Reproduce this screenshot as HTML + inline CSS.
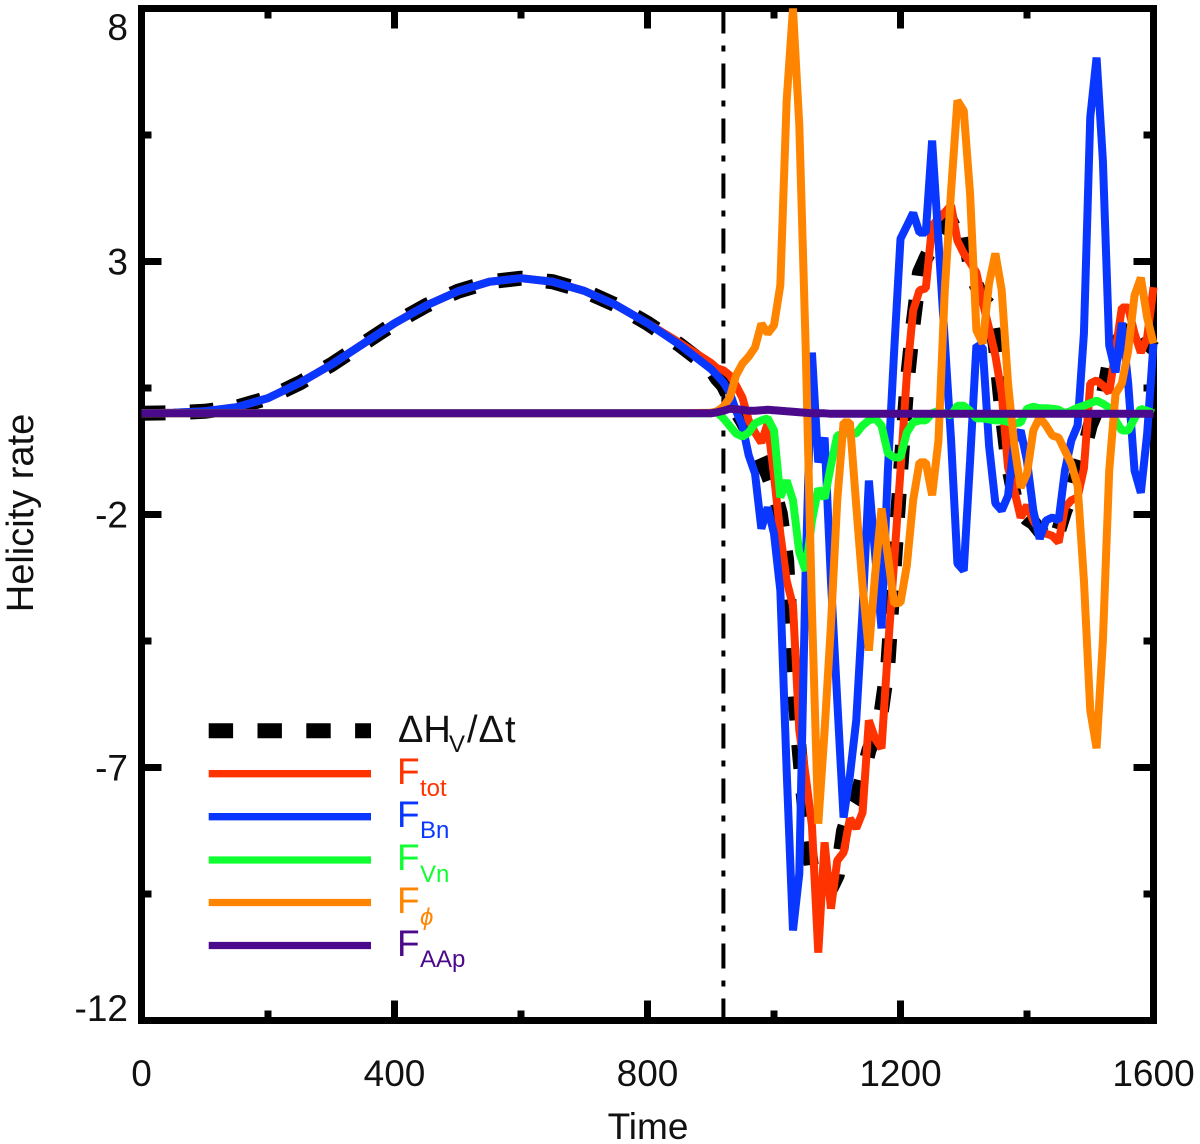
<!DOCTYPE html>
<html lang="en">
<head>
<meta charset="utf-8">
<title>Helicity rate vs time</title>
<style>
html,body{margin:0;padding:0;background:#fff;width:1200px;height:1144px;overflow:hidden}
svg{display:block}
text{font-family:"Liberation Sans",Arial,sans-serif;fill:#111}
</style>
</head>
<body>
<svg id="chart" xmlns="http://www.w3.org/2000/svg" width="1200" height="1144" viewBox="0 0 1200 1144">
  <g id="axes"></g>
  <g id="series"></g>
  <text x="648" y="1139" font-size="37" text-anchor="middle">Time</text>
  <text transform="translate(33,513) rotate(-90)" font-size="38" text-anchor="middle">Helicity rate</text>
  <g>
    <line x1="208.7" x2="371" y1="730.7" y2="730.7" stroke="#000" stroke-width="15" stroke-dasharray="24.4 24.4"/>
    <text x="398" y="742" font-size="38">ΔH</text>
    <text x="449" y="752" font-size="24">V</text>
    <text x="467" y="742" font-size="38" letter-spacing="1">/Δt</text>

    <line x1="208.7" x2="371" y1="773.7" y2="773.7" stroke="#ff3300" stroke-width="7.3"/>
    <text x="397" y="784" font-size="37" style="fill:#ff3300">F</text>
    <text x="420" y="796" font-size="24" style="fill:#ff3300">tot</text>

    <line x1="208.7" x2="371" y1="816.7" y2="816.7" stroke="#0a37ff" stroke-width="7.3"/>
    <text x="397" y="827" font-size="37" style="fill:#0a37ff">F</text>
    <text x="420" y="838" font-size="24" style="fill:#0a37ff">Bn</text>

    <line x1="208.7" x2="371" y1="860" y2="860" stroke="#10ff30" stroke-width="7.3"/>
    <text x="397" y="870" font-size="37" style="fill:#10ff30">F</text>
    <text x="420" y="882" font-size="24" style="fill:#10ff30">Vn</text>

    <line x1="208.7" x2="371" y1="902.5" y2="902.5" stroke="#ff8500" stroke-width="7.3"/>
    <text x="397" y="913" font-size="37" style="fill:#ff8500">F</text>
    <text x="420" y="925" font-size="24" font-style="italic" style="fill:#ff8500">ϕ</text>

    <line x1="208.7" x2="371" y1="945.5" y2="945.5" stroke="#4b0a8c" stroke-width="7.3"/>
    <text x="397" y="956" font-size="37" style="fill:#4b0a8c">F</text>
    <text x="420" y="967" font-size="24" style="fill:#4b0a8c">AAp</text>
  </g>
</svg>
<script>
const times = [0,50,100,150,200,250,300,350,400,450,500,550,600,650,700,750,800,850,900,
910,920,930,940,950,960,970,980,990,1000,
1010,1020,1030,1040,1050,1060,1070,1080,1090,1100,
1110,1120,1130,1140,1150,1160,1170,1180,1190,1200,
1210,1220,1230,1240,1250,1260,1270,1280,1290,1300,
1310,1320,1330,1340,1350,1360,1370,1380,1390,1400,
1410,1420,1430,1440,1450,1460,1470,1480,1490,1500,
1510,1520,1530,1540,1550,1560,1570,1580,1590,1600];

const dHdt = [0,.01,.04,.12,.3,.6,.96,1.37,1.78,2.13,2.41,2.6,2.67,2.6,2.42,2.14,1.78,1.36,.88,
.69,.55,.3,.05,-.15,-.38,-.65,-.93,-1.2,-1.53,
-1.98,-2.91,-5.09,-6.67,-8.05,-9.04,-9.23,-9.33,-9.39,-9.13,
-8.25,-7.85,-7.65,-7.16,-6.66,-6.37,-5.87,-4.98,-3.05,-1.17,
.55,1.77,2.78,3.06,3.32,3.51,3.71,3.85,3.91,3.71,
2.92,2.53,2.27,2.13,1.34,.06,-.99,-1.63,-1.96,-2.08,
-2.16,-2.32,-2.45,-2.52,-2.32,-1.92,-1.62,-1.13,-.74,-.24,
.06,.31,1.0,1.34,1.54,1.79,1.79,1.6,1.4,1.28];

const fTot = [0,.01,.04,.12,.3,.6,.96,1.37,1.78,2.13,2.41,2.6,2.67,2.6,2.42,2.14,1.78,1.4,1.0,
.89,.85,.75,.55,.31,-.14,-.38,-.58,-.2,-1.23,
-2.38,-3.31,-3.8,-6.27,-7.16,-8.15,-10.66,-8.48,-9.79,-8.84,
-8.68,-8.01,-8.2,-7.89,-6.07,-6.43,-6.62,-4.69,-2.91,-1.13,
.75,2.03,2.43,2.47,3.71,3.85,3.97,4.11,3.41,3.16,
2.98,2.78,2.19,1.68,1.14,.39,-1.07,-1.53,-2.06,-1.82,
-2.12,-2.32,-2.38,-2.42,-2.55,-1.86,-1.72,-1.66,-1.09,.59,
.65,.55,.41,1.24,2.09,2.09,1.58,1.2,1.5,2.49];

const fBn = [0,.01,.04,.12,.3,.6,.96,1.37,1.78,2.13,2.41,2.6,2.67,2.6,2.42,2.14,1.78,1.36,.88,
.75,.61,.41,.05,-.24,-.83,-1.19,-2.28,-1.86,-2.38,
-3.5,-7.06,-10.22,-9.1,-3.11,1.2,-.97,-.48,-3.3,-5.68,
-7.99,-7.16,-6.07,-3.9,-1.33,-2.81,-4.25,-1.13,1.24,3.45,
3.7,3.96,3.57,3.57,5.39,3.41,1.44,-.54,-2.97,-3.11,
-.94,1.34,1.3,-.64,-1.78,-1.92,-1.63,-.54,-.34,-.94,
-1.92,-2.48,-2.12,-2.06,-2.12,-1.13,-.54,-.24,1.58,5.85,
7.03,4.99,1.34,.81,1.79,.59,-1.13,-1.57,-.4,1.38];

const fVn = [0,0,0,0,0,0,0,0,0,0,0,0,0,0,0,0,0,0,0,
.02,-.1,-.25,-.4,-.46,-.38,-.2,-.14,-.1,-.34,
-1.66,-1.33,-1.72,-2.75,-3.11,-2.12,-1.49,-1.68,-1.03,-.44,
-.4,-.4,-.4,-.24,-.14,-.1,-.24,-.79,-.87,-.87,
-.38,-.18,-.14,-.14,0,.05,0,-.04,.15,.15,
.05,-.1,-.1,-.12,-.14,-.14,-.17,-.2,-.18,.09,
.13,.1,.1,.09,.07,0,.05,.11,.15,.2,
.25,.19,.11,-.14,-.34,-.34,-.1,.09,.05,0];

const fPhi = [0,0,0,0,0,0,0,0,0,0,0,0,0,0,0,0,0,0,.01,
.04,.13,.31,.75,.98,1.12,1.3,1.77,1.58,1.74,
2.53,6.18,8.0,5.69,1.34,-3.9,-8.11,-6.27,-4.19,-1.72,
-.18,-.18,-1.82,-3.4,-4.69,-3.17,-1.88,-2.82,-3.76,-3.74,
-3.01,-1.72,-.97,-.97,-1.62,-.54,2.43,4.4,6.18,5.98,
4.34,1.64,1.38,2.57,3.16,2.43,.59,-.64,-1.47,-1.19,
-.34,-.08,-.24,-.44,-.48,-.74,-1.0,-1.43,-3.3,-5.87,
-6.62,-4.49,-1.13,.39,.59,1.24,2.33,2.68,1.89,1.38];

const fAAp = [0,0,0,0,0,0,0,0,0,0,0,0,0,0,0,0,0,0,0,
.02,.05,.09,.08,.07,.05,.05,.06,.07,.06,
.05,.04,.03,.02,.01,0,0,0,-.01,-.01,
-.01,-.01,-.01,-.01,-.01,-.01,-.01,-.01,-.01,-.01,
-.01,-.01,-.01,-.01,-.01,-.01,-.01,-.01,-.01,-.01,
-.01,-.01,-.01,-.01,-.01,-.01,-.01,-.01,-.01,-.01,
-.01,-.01,-.01,-.01,-.01,-.01,-.01,-.01,-.01,-.01,
-.01,-.01,-.01,-.01,-.01,-.01,-.01,-.01,-.01,-.01];

const eventTime = [920];
const xMajorTicks = [0,400,800,1200,1600];
const xMinorTicks = [200,600,1000,1400];
const yMajorTicks = [8,3,-2,-7,-12];
const yMinorTicks = [5.5,.5,-4.5,-9.5];

const SVG_NS = 'http://www.w3.org/2000/svg';
const plotLeft = 141.5, plotRight = 1153.5, plotTop = 8.5, plotBottom = 1020.5;
const xMin = 0, xMax = 1600, yMin = -12, yMax = 8;
const majorLen = 20, minorLen = 10, spineWidth = 7;

function xScale(t){ return plotLeft + (t - xMin) / (xMax - xMin) * (plotRight - plotLeft); }
function yScale(v){ return plotBottom - (v - yMin) / (yMax - yMin) * (plotBottom - plotTop); }

const axes = document.getElementById('axes');
const seriesGroup = document.getElementById('series');

function makeLine(x1, y1, x2, y2){
  const l = document.createElementNS(SVG_NS, 'line');
  l.setAttribute('x1', x1); l.setAttribute('y1', y1);
  l.setAttribute('x2', x2); l.setAttribute('y2', y2);
  l.setAttribute('stroke', '#000');
  l.setAttribute('stroke-width', spineWidth);
  return l;
}
function makeLabel(x, y, anchor, str){
  const t = document.createElementNS(SVG_NS, 'text');
  t.setAttribute('x', x); t.setAttribute('y', y);
  t.setAttribute('text-anchor', anchor);
  t.setAttribute('font-size', 37);
  t.textContent = str;
  return t;
}

const frame = document.createElementNS(SVG_NS, 'rect');
frame.setAttribute('x', plotLeft); frame.setAttribute('y', plotTop);
frame.setAttribute('width', plotRight - plotLeft); frame.setAttribute('height', plotBottom - plotTop);
frame.setAttribute('fill', 'none'); frame.setAttribute('stroke', '#000');
frame.setAttribute('stroke-width', spineWidth);


axes.appendChild(frame);

function addXTicks(values, len, tickName){
  values.forEach(function(v){
    const x = xScale(v);
    const bottom = makeLine(x, plotBottom, x, plotBottom - len);
    
    
    axes.appendChild(bottom);
    const top = makeLine(x, plotTop, x, plotTop + len);
    
    
    axes.appendChild(top);
  });
}
function addYTicks(values, len, tickName){
  values.forEach(function(v){
    const y = yScale(v);
    const left = makeLine(plotLeft, y, plotLeft + len, y);
    
    
    axes.appendChild(left);
    const right = makeLine(plotRight, y, plotRight - len, y);
    
    
    axes.appendChild(right);
  });
}
addXTicks(xMajorTicks, majorLen, 'x-major-tick');
addXTicks(xMinorTicks, minorLen, 'x-minor-tick');
addYTicks(yMajorTicks, majorLen, 'y-major-tick');
addYTicks(yMinorTicks, minorLen, 'y-minor-tick');

xMajorTicks.forEach(function(v){
  const label = makeLabel(xScale(v), 1086, 'middle', String(v));
  
  
  axes.appendChild(label);
});
yMajorTicks.forEach(function(v){
  const base = Math.max(40, Math.min(1021, yScale(v) + 13));
  const label = makeLabel(128, base, 'end', String(v));
  
  
  axes.appendChild(label);
});

eventTime.forEach(function(t){
  const marker = makeLine(xScale(t), plotTop, xScale(t), plotBottom);
  marker.setAttribute('stroke-width', 4);
  marker.setAttribute('stroke-dasharray', '25 12 6 12');
  
  
  axes.appendChild(marker);
});

function pathFor(values){
  return values.map(function(v, i){
    return (i ? 'L' : 'M') + xScale(times[i]).toFixed(2) + ' ' + yScale(v).toFixed(2);
  }).join(' ');
}
function drawSeries(values, color, width, dash, seriesName){
  const p = document.createElementNS(SVG_NS, 'path');
  p.setAttribute('d', pathFor(values));
  p.setAttribute('fill', 'none');
  p.setAttribute('stroke', color);
  p.setAttribute('stroke-width', width);
  p.setAttribute('stroke-linejoin', 'bevel');
  if (dash) p.setAttribute('stroke-dasharray', dash);
  
  
  seriesGroup.appendChild(p);
}
drawSeries(dHdt, '#000000', 15, '24 24.5', 'series-dhv-dt');
drawSeries(fTot, '#ff3300', 8, null, 'series-ftot');
drawSeries(fBn, '#0a37ff', 8, null, 'series-fbn');
drawSeries(fVn, '#10ff30', 8, null, 'series-fvn');
drawSeries(fPhi, '#ff8500', 8, null, 'series-fphi');
drawSeries(fAAp, '#4b0a8c', 8, null, 'series-faap');
</script>
</body>
</html>
